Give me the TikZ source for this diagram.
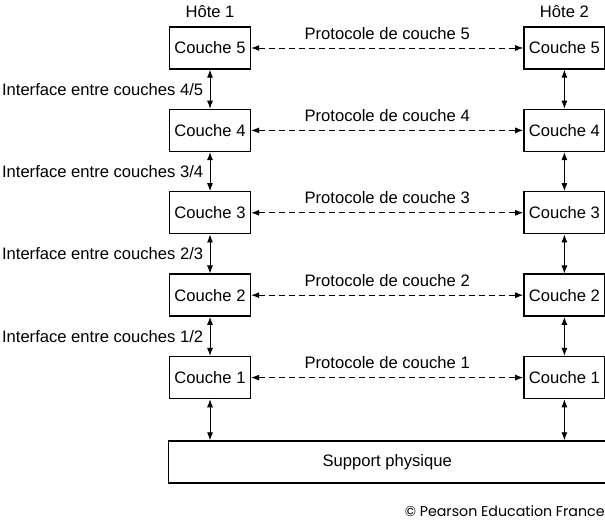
\documentclass[tikz,border=0pt]{standalone}
\usepackage{fontspec}
\setmainfont{Liberation Sans}
\newfontfamily\creditfont{Poppins}
\usetikzlibrary{positioning,arrows.meta,calc}

\begin{document}
\begin{tikzpicture}[x=1pt,y=1pt,line width=0.9pt,
    font=\fontsize{16.6}{19}\selectfont,
    couche/.style={draw=black,line width=1.4pt,minimum width=81pt,
      minimum height=42pt,inner sep=0pt},
    proto/.style={{Latex[length=8pt,width=6pt]}-{Latex[length=8pt,width=6pt]},
      dash pattern=on 6pt off 4pt},
    iface/.style={{Latex[length=8pt,width=6pt]}-{Latex[length=8pt,width=6pt]}}]
  \useasboundingbox (0,0) rectangle (605,524);
  % hote 1
  \node[couche] (a5) at (210,476) {Couche 5};
  \node[couche,below=39pt of a5] (a4) {Couche 4};
  \node[couche,below=39pt of a4] (a3) {Couche 3};
  \node[couche,below=39pt of a3] (a2) {Couche 2};
  \node[couche,below=39pt of a2] (a1) {Couche 1};
  \node[above=5pt of a5] (hote1) {Hôte 1};
  % hote 2
  \node[couche,right=272pt of a5] (b5) {Couche 5};
  \node[couche,right=272pt of a4] (b4) {Couche 4};
  \node[couche,right=272pt of a3] (b3) {Couche 3};
  \node[couche,right=272pt of a2] (b2) {Couche 2};
  \node[couche,right=272pt of a1] (b1) {Couche 1};
  \node[above=5pt of b5] (hote2) {Hôte 2};

  \node[couche,minimum width=438pt,below=41pt of {$(a1.south)!0.5!(b1.south)$}]
    (support) {Support physique};

  \draw[proto] (a5) -- node[above=5pt] {Protocole de couche 5} (b5);
  \draw[proto] (a4) -- node[above=5pt] {Protocole de couche 4} (b4);
  \draw[proto] (a3) -- node[above=5pt] {Protocole de couche 3} (b3);
  \draw[proto] (a2) -- node[above=5pt] {Protocole de couche 2} (b2);
  \draw[proto] (a1) -- node[above=5pt] {Protocole de couche 1} (b1);

  \draw[iface] (a5) -- node[left=3pt] {Interface entre couches 4/5} (a4);
  \draw[iface] (a4) -- node[left=3pt] {Interface entre couches 3/4} (a3);
  \draw[iface] (a3) -- node[left=3pt] {Interface entre couches 2/3} (a2);
  \draw[iface] (a2) -- node[left=3pt] {Interface entre couches 1/2} (a1);
  \draw[iface] (a1) -- (a1 |- support.north);
  \draw[iface] (b5) -- (b4);
  \draw[iface] (b4) -- (b3);
  \draw[iface] (b3) -- (b2);
  \draw[iface] (b2) -- (b1);
  \draw[iface] (b1) -- (b1 |- support.north);

  \node[anchor=base east,inner sep=0pt,font=\creditfont\fontsize{14.2}{16}\selectfont]
    (credit) at (605,7) {© Pearson Education France};
\end{tikzpicture}
\end{document}
